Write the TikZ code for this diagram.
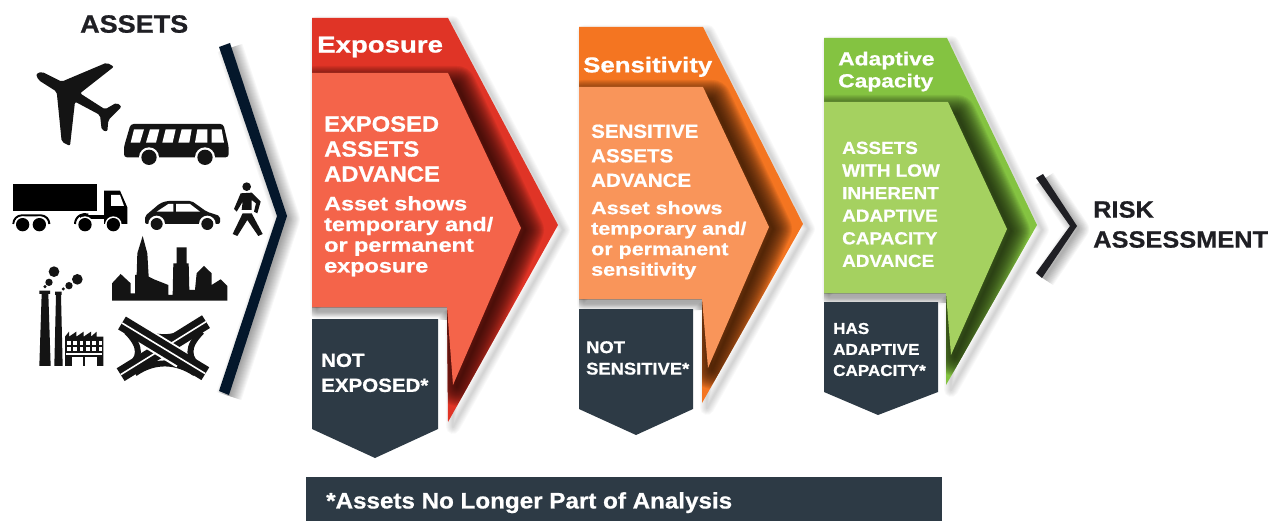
\documentclass[tikz,border=0pt]{standalone}
\usepackage{fontspec}
\newfontfamily\wideA[FakeStretch=1.08,BoldFeatures={FakeBold=0.8}]{Liberation Sans}
\newfontfamily\wideB[FakeStretch=1.2,BoldFeatures={FakeBold=0.8}]{Liberation Sans}
\definecolor{ExposureOuter}{RGB}{224,52,38}
\definecolor{ExposureInner}{RGB}{244,100,74}
\definecolor{SensitivityOuter}{RGB}{244,117,33}
\definecolor{SensitivityInner}{RGB}{249,149,90}
\definecolor{AdaptiveOuter}{RGB}{132,195,65}
\definecolor{AdaptiveInner}{RGB}{165,209,96}
\definecolor{SlateBox}{RGB}{45,58,69}
\definecolor{NavyChevron}{RGB}{4,23,43}
\definecolor{InkLabel}{RGB}{31,31,36}
\tikzset{
  txt/.style n args={3}{font=#1\bfseries\fontsize{#2}{#3}\selectfont,anchor=north west,inner sep=0pt,align=left,text=white},
  ink/.style={black!92},
}
\newcommand{\softshadow}[4]{%
  \foreach \w in {2,4,...,#4} {
    \draw[#2,draw opacity=#3,line width=\w pt,line join=round] #1;
  }
}
% outer, inner, strip under inner, colours, path of the dark shadow
\newcommand{\stagearrow}[6]{%
  \begin{scope}[shift={(5,5)}]\softshadow{#1}{black}{0.022}{14}\end{scope}
  \fill[#4] #1;
  \begin{scope}\clip #1;
    \begin{scope}[shift={(4,2)}]\softshadow{#6}{#4!18!black}{0.075}{38}\end{scope}
  \end{scope}
  \begin{scope}\clip #3;
    \begin{scope}[shift={(0,1)}]\softshadow{#2}{black}{0.03}{18}\end{scope}
  \end{scope}
  \fill[#5] #2;
}
\begin{document}
\begin{tikzpicture}[x=1pt,y=-1pt]
\useasboundingbox (0,0) rectangle (1273,521);
\fill[white] (0,0) rectangle (1273,521);
% chevrons
\begin{scope}[shift={(5,3)}]\softshadow{(225,45) -- (282,216) -- (224,393)}{black}{0.03}{26}\end{scope}
\fill[NavyChevron] (219,47) -- (230,43) -- (287,216) -- (229,395) -- (219,391) -- (277,216) -- cycle;
\begin{scope}[shift={(5,3)}]\softshadow{(1039,176) -- (1073,226) -- (1039,276)}{black}{0.03}{22}\end{scope}
% stages
\stagearrow{(312,18) -- (448,18) -- (558,225) -- (448,422) -- (447,307) -- (312,307) -- cycle}
  {(312,73) -- (448,73) -- (521,228) -- (453,385) -- (447,307) -- (312,307) -- cycle}
  {(312,307) rectangle (447,319)}{ExposureOuter}{ExposureInner}
  {(312,83) -- (453,83) -- (521,228) -- (453,385) -- (447,307) -- (312,307) -- cycle}
\stagearrow{(579,27) -- (703,27) -- (803,224) -- (702,403) -- (702,299) -- (579,299) -- cycle}
  {(579,87) -- (703,87) -- (769,227) -- (708,368) -- (702,299) -- (579,299) -- cycle}
  {(579,299) rectangle (702,309)}{SensitivityOuter}{SensitivityInner}
  {(579,97) -- (708,97) -- (769,227) -- (708,368) -- (702,299) -- (579,299) -- cycle}
\stagearrow{(824,38) -- (947,38) -- (1037,225) -- (946,385) -- (946,293) -- (824,293) -- cycle}
  {(824,102) -- (948,102) -- (1007,229) -- (951,355) -- (946,293) -- (824,293) -- cycle}
  {(824,293) rectangle (946,302)}{AdaptiveOuter}{AdaptiveInner}
  {(824,112) -- (953,112) -- (1007,229) -- (951,355) -- (946,293) -- (824,293) -- cycle}
\fill[InkLabel] (1036,178) -- (1043,174) -- (1077,226) -- (1042,278) -- (1036,273) -- (1070,226) -- cycle;
% dropped assets
\fill[SlateBox] (312,319) -- (438,319) -- (438,429) -- (375,458) -- (312,429) -- cycle;
\fill[SlateBox] (579,309) -- (693,309) -- (693,409) -- (636,435) -- (579,409) -- cycle;
\fill[SlateBox] (824,302) -- (938,302) -- (938,392) -- (878,415) -- (824,392) -- cycle;
\fill[SlateBox] (306,477) rectangle (942,521);
% labels
\node[txt={\wideA}{25}{30},text=InkLabel] (nAssets) at (80,15) {ASSETS};
\node[txt={\wideB}{23}{28}] (nExposure) at (317,36.5) {Exposure};
\node[txt={\wideA}{22}{25}] (nExposed) at (324,116) {EXPOSED\\ASSETS\\ADVANCE};
\node[txt={\wideB}{19.5}{20.7}] (nExposedNote) at (324,196) {Asset shows\\temporary and/\\or permanent\\exposure};
\node[txt={\wideA}{19}{25}] (nNotExposed) at (321,353.4) {NOT\\EXPOSED*};
\node[txt={\wideB}{21.5}{26}] (nSensitivity) at (583,56.6) {Sensitivity};
\node[txt={\wideA}{19}{24.5}] (nSensitive) at (591,124.4) {SENSITIVE\\ASSETS\\ADVANCE};
\node[txt={\wideB}{17.9}{20.5}] (nSensitiveNote) at (591,201) {Asset shows\\temporary and/\\or permanent\\sensitivity};
\node[txt={\wideA}{17}{21.5}] (nNotSensitive) at (586,341) {NOT\\SENSITIVE*};
\node[txt={\wideB}{19}{22}] (nAdaptive) at (838,51.4) {Adaptive\\Capacity};
\node[txt={\wideA}{17.5}{22.6}] (nLowCapacity) at (842,141.5) {ASSETS\\WITH LOW\\INHERENT\\ADAPTIVE\\CAPACITY\\ADVANCE};
\node[txt={\wideA}{15.8}{21}] (nHasCapacity) at (833,322.7) {HAS\\ADAPTIVE\\CAPACITY*};
\node[txt={\wideA}{23.5}{30},text=InkLabel] (nRisk) at (1093,201) {RISK\\ASSESSMENT};
\node[txt={\wideA}{22.4}{26}] (nNote) at (326,492) {*Assets No Longer Part of Analysis};
% icons
\begin{scope}[scale=1/3]
% plane
\fill[ink,rounded corners=2pt] (108,222) -- (125,215) -- (185,245) -- (320,188) -- (342,200) -- (240,280) -- (315,328) -- (350,308) -- (365,320) -- (325,360) -- (322,395) -- (305,390) -- (300,345) -- (225,305) -- (210,438) -- (185,425) -- (170,275) -- (115,240) -- cycle;
% bus
\fill[ink,rounded corners=3pt] (372,472) -- (372,440) -- (392,372) -- (670,372) -- (686,440) -- (686,472) -- cycle;
\foreach \a/\b/\c/\d in {402/432/420/392,450/478/468/438,497/527/518/487,545/575/568/535,592/622/622/585,635/665/672/635} {
   \fill[white] (\a,388) -- (\b,388) -- (\c,428) -- (\d,428) -- cycle;
}
\foreach \x in {447,615} {
   \fill[white] (\x,472) circle (30);
   \fill[ink] (\x,472) circle (23);
}
% truck
\fill[black] (38,553) rectangle (290,632);
\fill[black] (312,572) -- (360,572) -- (382,622) -- (382,672) -- (312,672) -- cycle;
\fill[white] (333,585) -- (360,585) -- (372,618) -- (333,618) -- cycle;
\fill[black] (240,645) rectangle (312,656);
\draw[black,line width=2pt] (40,672) arc (180:270:26) -- (122,646) arc (270:360:26);
\draw[black,line width=2pt] (225,672) arc (180:290:30);
\foreach \x in {68,118,255,340} {
   \fill[white] (\x,674) circle (25);
   \fill[black] (\x,674) circle (20);
}
% car
\fill[ink,rounded corners=2pt] (435,672) -- (435,648) -- (480,610) -- (500,603) -- (575,603) -- (620,635) -- (660,648) -- (660,672) -- cycle;
\fill[white] (470,635) -- (505,612) -- (520,612) -- (520,635) -- cycle;
\fill[white] (528,612) -- (570,612) -- (600,635) -- (528,635) -- cycle;
\foreach \x in {470,622} {
   \fill[white] (\x,672) circle (25);
   \fill[ink] (\x,672) circle (18);
}
% pedestrian
\fill[ink] (740,560) circle (13);
\fill[ink] (722,580) -- (755,578) -- (782,605) -- (772,640) -- (762,635) -- (768,610) -- (755,600) -- (755,630) -- (725,630) -- (728,605) -- (710,635) -- (702,627) -- cycle;
\fill[ink] (728,640) -- (755,640) -- (788,702) -- (775,708) -- (742,660) -- (712,708) -- (698,702) -- cycle;
% skyline
\fill[ink] (336,902) -- (336,850) -- (362,822) -- (392,850) -- (392,880) -- (405,880) -- (405,825) -- (410,825) -- (412,760) -- (428,708) -- (442,760) -- (446,830) -- (462,838) -- (505,855) -- (505,885) -- (518,885) -- (520,790) -- (530,790) -- (530,742) -- (560,742) -- (560,790) -- (566,790) -- (568,870) -- (585,870) -- (590,820) -- (612,798) -- (635,820) -- (635,855) -- (662,838) -- (682,858) -- (682,902) -- cycle;
% factory
\fill[ink] (118,1098) -- (125,882) -- (118,882) -- (118,872) -- (150,872) -- (150,882) -- (145,882) -- (152,1098) -- cycle;
\fill[ink] (163,1098) -- (168,885) -- (165,885) -- (165,875) -- (185,875) -- (185,885) -- (183,885) -- (188,1098) -- cycle;
\foreach \x/\y/\r in {162/815/16,147/847/11,135/860/5,232/838/16,207/857/11,190/867/5} {
   \fill[ink] (\x,\y) circle (\r);
}
\fill[ink] (195,1098) -- (195,1010) -- (207,995) -- (207,1010) -- (229,995) -- (229,1010) -- (251,995) -- (251,1010) -- (273,995) -- (273,1010) -- (290,995) -- (290,1010) -- (310,1010) -- (310,1098) -- cycle;
\foreach \x in {201,220,239,258,277,296} {
   \fill[white] (\x,1024) rectangle +(11,12);
   \fill[white] (\x,1040) rectangle +(11,12);
}
\fill[white] (198,1060) rectangle (307,1064);
\fill[white] (215,1070) rectangle (290,1098);
\fill[ink] (250,1070) rectangle (254,1098);
% interchange
\draw[ink,line width=6pt] (405,980) .. controls (465,1025) and (530,1020) .. (585,977);
\draw[ink,line width=6pt] (405,1120) .. controls (465,1078) and (530,1083) .. (585,1120);
\draw[ink,line width=6pt] (380,995) .. controls (425,1040) and (425,1075) .. (380,1105);
\draw[ink,line width=6pt] (605,995) .. controls (560,1040) and (560,1075) .. (605,1105);
\draw[ink,line width=15pt] (362,1124) -- (618,965);
\draw[white,line width=1.6pt] (362,1124) -- (618,965);
\draw[white,line width=19pt] (440,1014) -- (544,1078);
\draw[ink,line width=15pt] (366,969) -- (616,1121);
\draw[white,line width=1.6pt] (366,969) -- (616,1121);
\end{scope}
\end{tikzpicture}
\end{document}
